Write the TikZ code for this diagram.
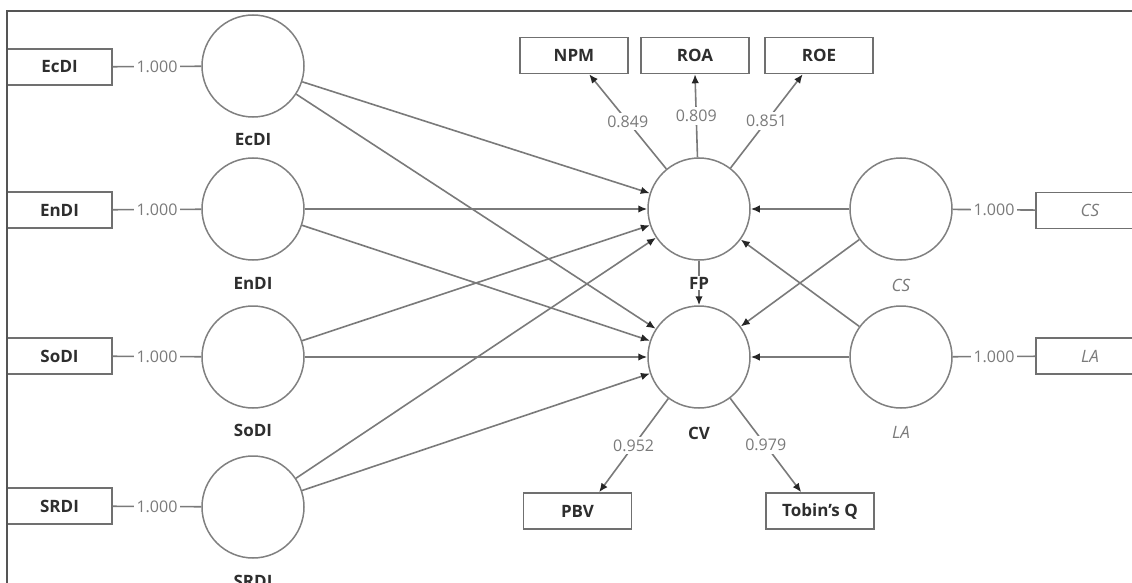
\documentclass[tikz,border=0pt]{standalone}
\usepackage{fontspec}
\setmainfont{Open Sans}
\usetikzlibrary{arrows.meta}
\definecolor{linegray}{HTML}{7A7A7A}
\definecolor{boxgray}{HTML}{707070}
\definecolor{circgray}{HTML}{808080}
\definecolor{textdark}{HTML}{2E2E2E}
\definecolor{numgray}{HTML}{7A7A7A}
\definecolor{framegray}{HTML}{555555}
\tikzset{
  ind/.style={rectangle, draw=boxgray, line width=1.5pt, minimum width=108pt, minimum height=36pt, inner sep=0pt,
    font=\bfseries\fontsize{17}{19}\selectfont, text=textdark},
  indleft/.style={ind, minimum width=105pt},
  inditalic/.style={ind, font=\itshape\fontsize{17}{19}\selectfont, text=numgray},
  lv/.style={circle, draw=circgray, line width=1.5pt, minimum size=102pt, inner sep=0pt},
  lvlab/.style={font=\bfseries\fontsize{17}{19}\selectfont, text=textdark, fill=white, inner sep=1pt},
  lvlabit/.style={font=\itshape\fontsize{17}{19}\selectfont, text=numgray, fill=white, inner sep=1pt},
  struct/.style={draw=linegray, line width=1.6pt, -{Latex[length=9pt,width=7.5pt,color=black!85]}},
  link/.style={draw=linegray, line width=1.6pt},
  load/.style={font=\fontsize{16}{18}\selectfont, text=numgray, fill=white, inner sep=3pt},
}
\begin{document}
\begin{tikzpicture}[x=1pt,y=-1pt]
\useasboundingbox (0,0) rectangle (1132,583);
\clip (0,0) rectangle (1132,583);
\fill[white] (0,0) rectangle (1132,583);

% latent variables
\node[lv] (EcDI) at (253,66) {};
\node[lv] (EnDI) at (253,209) {};
\node[lv] (SoDI) at (253,357) {};
\node[lv] (SRDI) at (253,507) {};
\node[lv] (FP) at (699,209) {};
\node[lv] (CV) at (699,357) {};
\node[lv] (CS) at (901,209) {};
\node[lv] (LA) at (901,357) {};

% indicators
\node[indleft] (iEcDI) at (59.5,67) {EcDI};
\node[indleft] (iEnDI) at (59.5,210) {EnDI};
\node[indleft] (iSoDI) at (59.5,356) {SoDI};
\node[indleft] (iSRDI) at (59.5,506) {SRDI};
\node[ind] (NPM) at (574,55.5) {NPM};
\node[ind] (ROA) at (695,55.5) {ROA};
\node[ind] (ROE) at (819,55.5) {ROE};
\node[ind] (PBV) at (577.5,511) {PBV};
\node[ind] (TQ) at (820,511) {Tobin's Q};
\node[inditalic] (iCS) at (1090,210.5) {CS};
\node[inditalic] (iLA) at (1090,356) {LA};

% frame
\coordinate (fTL) at (7,11);
\coordinate (fTR) at (1140,11);
\coordinate (fBL) at (7,590);
\draw[framegray, line width=1.8pt] (fTR) -- (fTL) -- (fBL);

% structural paths
\draw[struct] (EcDI) -- (FP);
\draw[struct] (EcDI) -- (CV);
\draw[struct] (EnDI) -- (FP);
\draw[struct] (EnDI) -- (CV);
\draw[struct] (SoDI) -- (FP);
\draw[struct] (SoDI) -- (CV);
\draw[struct] (SRDI) -- (FP);
\draw[struct] (SRDI) -- (CV);
\draw[struct] (CS) -- (FP);
\draw[struct] (CS) -- (CV);
\draw[struct] (LA) -- (FP);
\draw[struct] (LA) -- (CV);
\draw[struct] (FP) -- (CV);

% single-item links
\draw[link] (iEcDI) -- node[load]{1.000} (EcDI);
\draw[link] (iEnDI) -- node[load]{1.000} (EnDI);
\draw[link] (iSoDI) -- node[load]{1.000} (SoDI);
\draw[link] (iSRDI) -- node[load]{1.000} (SRDI);
\draw[link] (CS) -- node[load]{1.000} (iCS);
\draw[link] (LA) -- node[load]{1.000} (iLA);

% reflective loadings
\draw[struct] (FP) -- node[load]{0.849} (NPM.-51);
\draw[struct] (FP) -- node[load]{0.809} (ROA.south);
\draw[struct] (FP) -- node[load]{0.851} (ROE.-131);
\draw[struct] (CV) -- node[load]{0.952} (PBV.41);
\draw[struct] (CV) -- node[load]{0.979} (TQ.135);

% latent variable labels
\node[lvlab] (lEcDI) at (253,140) {EcDI};
\node[lvlab] (lEnDI) at (253,283) {EnDI};
\node[lvlab] (lSoDI) at (253,430) {SoDI};
\node[lvlab] (lSRDI) at (253,581) {SRDI};
\node[lvlab] (lFP) at (699,283) {FP};
\node[lvlab] (lCV) at (699,433) {CV};
\node[lvlabit] (lCS) at (901,285) {CS};
\node[lvlabit] (lLA) at (901,432) {LA};
\end{tikzpicture}
\end{document}
